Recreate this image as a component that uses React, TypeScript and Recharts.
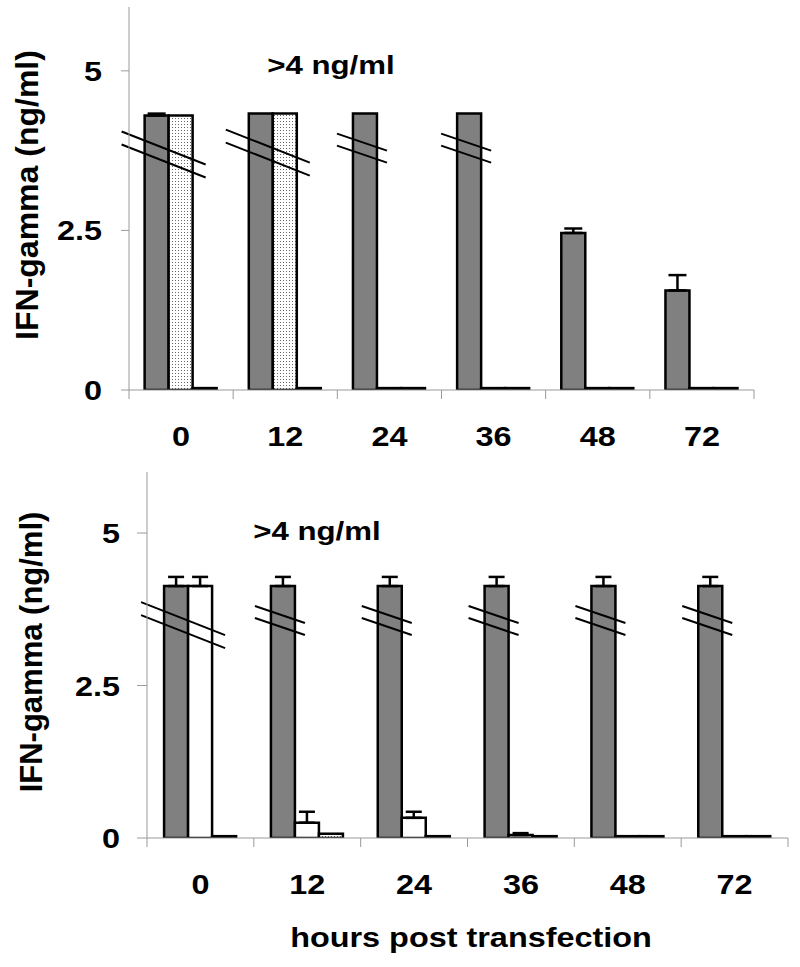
import React from 'react';
import { BarChart, Bar, XAxis, YAxis, ErrorBar, Customized } from 'recharts';

const hours = ['0', '12', '24', '36', '48', '72'];

// upper panel
const topSolid = [4.3, 4.33, 4.33, 4.33, 2.46, 1.56];
const topSolidErr = [0.03, 0, 0, 0, 0.07, 0.24];
const topDotted = [4.3, 4.33, 0.03, 0.03, 0.03, 0.03];
const topOpen = [0.03, 0.03, 0.03, 0.03, 0.03, 0.03];
const topBreaks = [2, 2, 1, 1, 0, 0]; // bars drawn with an axis break (how many bars it crosses)

// lower panel
const botSolid = [4.13, 4.13, 4.13, 4.13, 4.13, 4.13];
const botSolidErr = [0.15, 0.15, 0.15, 0.15, 0.15, 0.15];
const botOpen = [4.13, 0.25, 0.33, 0.05, 0.03, 0.03];
const botOpenErr = [0.15, 0.18, 0.1, 0.03, 0, 0];
const botDotted = [0.03, 0.07, 0.03, 0.03, 0.03, 0.03];
const botBreaks = [2, 1, 1, 1, 1, 1];

const yTicks = [0, 2.5, 5];
const noteText = '>4 ng/ml';
const yTitle = 'IFN-gamma (ng/ml)';
const xTitle = 'hours post transfection';

const topRows = hours.map((h, i) => ({
  h, a: topSolid[i], aErr: topSolidErr[i], b: topDotted[i], bErr: 0, c: topOpen[i], brk: topBreaks[i],
}));
const botRows = hours.map((h, i) => ({
  h, a: botSolid[i], aErr: botSolidErr[i], b: botOpen[i], bErr: botOpenErr[i], c: botDotted[i], brk: botBreaks[i],
}));

const FONT = '"Liberation Sans", Arial, Helvetica, sans-serif';
const AXIS = '#9a9a9a';
const DARK = '#808080';
const SX = 1.2;
const SW = 2.5;

function WideText({ x, y, size, anchor = 'middle', children }: any) {
  return (
    <text
      transform={`translate(${x} ${y}) scale(${SX} 1)`}
      textAnchor={anchor}
      fontFamily={FONT}
      fontWeight="bold"
      fontSize={size}
      fill="#000"
    >
      {children}
    </text>
  );
}

// labels right-aligned at a fixed column left of the axis
const makeYTick = (endX: number) => (props: any) => {
  const { y, payload } = props;
  return <WideText x={endX} y={y + 10} size={27} anchor="end">{payload.value}</WideText>;
};

const makeXTick = (band: number) => (props: any) => {
  const { x, y, payload } = props;
  const last = payload.value === hours[hours.length - 1];
  return (
    <g>
      <line x1={x - band / 2} x2={x - band / 2} y1={y} y2={y + 9} stroke={AXIS} />
      {last && <line x1={x + band / 2} x2={x + band / 2} y1={y} y2={y + 9} stroke={AXIS} />}
      <WideText x={x} y={y + 56} size={27}>{payload.value}</WideText>
    </g>
  );
};

const errVal = (key: string) => (d: any) => (d[key] > 0 ? [0, d[key]] : null);

// last series is drawn on top, so it also carries the axis-break strokes
const makeLastShape = (fill: string, base: number, ppu: number) => (props: any) => {
  const { x, y, width, height, payload, background } = props;
  const baseline = background ? background.y + background.height : base;
  const unit = background ? background.height / 6 : ppu;
  const span = payload.brk;
  const darkX = x - 2 * width;
  const T = baseline - payload.a * unit;
  let lines: any = null;
  if (span === 2) {
    const x1 = darkX - 23, x2 = darkX + 2 * width + 13;
    lines = [0, 13].map((g) => (
      <line key={g} x1={x1} y1={T + 16 + g} x2={x2} y2={T + 49 + g} stroke="#000" strokeWidth={2} />
    ));
  } else if (span === 1) {
    const x1 = darkX - 16, x2 = darkX + width + 10;
    lines = [0, 12].map((g) => (
      <line key={g} x1={x1} y1={T + 20 + g} x2={x2} y2={T + 37 + g} stroke="#000" strokeWidth={2} />
    ));
  }
  return (
    <g>
      <rect x={x} y={y} width={width} height={Math.max(height, 0)} fill={fill} stroke="#000" strokeWidth={SW} />
      {lines}
    </g>
  );
};

const TopNotes = () => (
  <g>
    <WideText x={331} y={74} size={26}>{noteText}</WideText>
    <text
      transform="translate(38 195) rotate(-90)"
      textAnchor="middle"
      fontFamily={FONT}
      fontWeight="bold"
      fontSize={32}
    >
      {yTitle}
    </text>
  </g>
);

const BotNotes = () => (
  <g>
    <WideText x={317} y={80} size={26}>{noteText}</WideText>
    <text
      transform="translate(42 192) rotate(-90)"
      textAnchor="middle"
      fontFamily={FONT}
      fontWeight="bold"
      fontSize={31}
    >
      {yTitle}
    </text>
    <WideText x={471} y={487} size={27}>{xTitle}</WideText>
  </g>
);

export default function App() {
  return (
    <div style={{ position: 'absolute', left: 0, top: 0, width: 800, height: 967, background: '#fff' }}>
      <svg width={0} height={0} style={{ position: 'absolute' }}>
        <defs>
          <pattern id="dots" width="3" height="3" patternUnits="userSpaceOnUse">
            <rect width="3" height="3" fill="#fff" />
            <rect x="1" y="1" width="1" height="1" fill="#666" />
          </pattern>
        </defs>
      </svg>

      <div style={{ position: 'absolute', left: 0, top: 0 }}>
        <BarChart
          width={800}
          height={460}
          data={topRows}
          margin={{ top: 7, right: 46, left: 0, bottom: 0 }}
          barGap={0}
          barCategoryGap="15%"
        >
          <XAxis
            dataKey="h"
            height={70}
            interval={0}
            tickLine={false}
            tickSize={0}
            tickMargin={0}
            axisLine={{ stroke: AXIS }}
            tick={makeXTick(625 / 6)}
          />
          <YAxis
            width={129}
            domain={[0, 6]}
            ticks={yTicks}
            allowDataOverflow
            interval={0}
            tickSize={8}
            tick={makeYTick(102)}
            axisLine={{ stroke: AXIS }}
            tickLine={{ stroke: AXIS }}
          />
          <Bar dataKey="a" fill={DARK} stroke="#000" strokeWidth={SW} isAnimationActive={false}>
            <ErrorBar dataKey={errVal('aErr')} width={9} stroke="#000" strokeWidth={2.5} direction="y" />
          </Bar>
          <Bar dataKey="b" fill="url(#dots)" stroke="#000" strokeWidth={SW} isAnimationActive={false} />
          <Bar dataKey="c" shape={makeLastShape('#fff', 390, 383 / 6)} isAnimationActive={false} />
          <Customized component={TopNotes} />
        </BarChart>
      </div>

      <div style={{ position: 'absolute', left: 0, top: 460 }}>
        <BarChart
          width={800}
          height={507}
          data={botRows}
          margin={{ top: 12, right: 12, left: 0, bottom: 0 }}
          barGap={0}
          barCategoryGap="16%"
        >
          <XAxis
            dataKey="h"
            height={129}
            interval={0}
            tickLine={false}
            tickSize={0}
            tickMargin={0}
            axisLine={{ stroke: AXIS }}
            tick={makeXTick(641 / 6)}
          />
          <YAxis
            width={147}
            domain={[0, 6]}
            ticks={yTicks}
            allowDataOverflow
            interval={0}
            tickSize={10}
            tick={makeYTick(120)}
            axisLine={{ stroke: AXIS }}
            tickLine={{ stroke: AXIS }}
          />
          <Bar dataKey="a" fill={DARK} stroke="#000" strokeWidth={SW} isAnimationActive={false}>
            <ErrorBar dataKey={errVal('aErr')} width={8} stroke="#000" strokeWidth={2.5} direction="y" />
          </Bar>
          <Bar dataKey="b" fill="#fff" stroke="#000" strokeWidth={SW} isAnimationActive={false}>
            <ErrorBar dataKey={errVal('bErr')} width={8} stroke="#000" strokeWidth={2.5} direction="y" />
          </Bar>
          <Bar dataKey="c" shape={makeLastShape('url(#dots)', 378, 366 / 6)} isAnimationActive={false} />
          <Customized component={BotNotes} />
        </BarChart>
      </div>
    </div>
  );
}
